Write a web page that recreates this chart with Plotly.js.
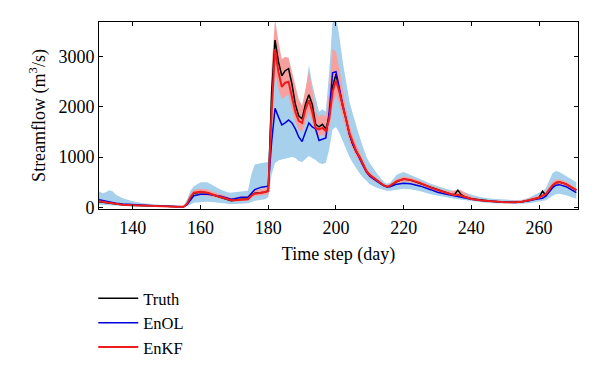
<!DOCTYPE html>
<html>
<head>
<meta charset="utf-8">
<script src="https://cdn.plot.ly/plotly-3.0.1.min.js"></script>
<style>html,body{margin:0;padding:0;background:#fff;}#chart{width:600px;height:372px;}</style>
</head>
<body>
<div id="chart"></div>
<script>
const days = [130,131,132,133,134,135,137,140,143,146,150,153,155,156,157,158,160,162,164,166,168,169,170,172,174,175,176,178,179,180,181,182,183,184,185,186,187,188,189,190,191,192,193,194,195,196,197,198,199,200,201,202,203,204,205,206,207,208,209,210,212,214,215,216,218,220,222,225,228,230,232,234,235,236,237,238,240,243,246,250,253,255,257,259,260,261,262,263,264,265,266,268,270,271];

const truth = [110,100,90,80,70,62,50,40,30,25,18,12,10,60,180,280,300,290,240,200,160,130,140,160,160,240,280,295,300,330,2300,3330,2900,2620,2720,2760,2450,2050,1820,1760,2050,2240,2050,1650,1600,1650,1560,1800,2400,2650,2300,2000,1750,1450,1250,1100,1000,850,720,640,540,440,410,420,510,560,540,470,390,340,300,260,250,340,250,210,170,140,120,100,100,110,140,180,190,320,240,330,430,490,500,460,380,340];

const enkf = [120,110,95,85,75,65,52,42,32,26,18,12,10,70,200,290,310,290,245,205,165,140,140,150,160,230,270,290,300,320,1900,3150,2700,2400,2480,2500,2200,1900,1720,1680,1950,2130,1900,1580,1550,1580,1520,1750,2300,2520,2300,2050,1750,1470,1280,1120,1000,850,720,640,540,440,410,430,520,560,545,480,390,340,300,260,245,250,230,200,165,135,115,100,100,110,140,175,190,230,260,350,440,490,500,460,380,340];

const enol = [150,135,120,105,92,80,65,50,38,30,22,15,12,50,150,230,260,260,240,220,180,160,170,200,200,280,350,400,410,420,1300,1970,1800,1640,1680,1740,1680,1560,1400,1310,1500,1680,1600,1560,1330,1360,1380,1900,2680,2700,2350,2050,1750,1450,1250,1100,980,830,700,620,520,430,410,410,460,480,470,420,350,300,270,240,230,220,210,190,160,135,115,100,95,105,130,160,170,180,220,300,390,440,450,410,330,290];

const olEnsTop = [320,280,300,340,320,250,180,120,80,60,40,30,25,150,330,420,500,500,430,350,300,290,300,320,330,650,850,880,890,900,2400,3100,2900,2600,2700,2750,2500,2200,2000,1850,2300,2830,2450,2200,1900,1950,1900,2700,3700,3800,3400,2900,2450,2100,1850,1600,1400,1200,1000,880,680,520,470,490,650,700,650,560,470,420,380,340,320,330,320,300,250,200,170,150,140,150,190,260,290,320,380,550,680,720,700,620,540,500];

const olEnsBot = [50,45,40,35,30,25,20,15,10,8,5,3,2,20,60,90,100,110,100,90,70,60,60,70,80,100,130,150,160,200,650,880,930,950,970,990,1000,980,920,900,960,1020,980,940,880,860,880,1150,1550,1600,1480,1320,1150,1000,880,770,670,590,520,460,390,340,330,330,350,370,360,320,260,230,200,180,170,160,150,140,120,100,80,70,65,70,80,100,110,120,140,180,230,260,270,240,190,170];

const kfEnsTop = [140,125,110,95,85,75,60,48,36,30,22,15,12,100,260,350,370,360,300,260,210,190,190,220,220,300,340,360,380,420,2800,3750,3300,2950,3000,2980,2700,2400,2150,2020,2400,2700,2350,1900,1800,1850,1800,2300,3150,3100,2750,2350,1950,1650,1420,1250,1100,930,790,700,580,470,440,460,570,610,590,520,430,380,340,320,340,350,340,300,210,160,135,120,125,140,170,210,230,260,320,420,510,560,560,510,420,380];

const kfEnsBot = [100,90,80,70,62,55,44,35,26,20,14,9,7,40,140,220,240,230,200,170,130,110,110,120,130,180,220,240,250,250,1500,2700,2350,2150,2200,2250,1950,1700,1550,1500,1700,1900,1700,1450,1420,1450,1380,1550,2000,2250,2050,1800,1550,1300,1150,1000,900,770,650,580,500,410,385,395,470,510,500,440,360,310,270,235,220,215,200,180,145,120,100,88,88,95,120,155,170,195,220,300,380,430,440,410,340,300];

const xTicks = [140,160,180,200,220,240,260];
const yTicks = [0,1000,2000,3000];

const FONT = "Liberation Serif, Times New Roman, serif";
const olFill = "rgba(166,208,236,1)";
const kfFill = "rgba(246,160,160,1)";

const traces = [
  {x: days, y: olEnsBot, mode: "lines", line: {width: 0, color: olFill}, showlegend: false, hoverinfo: "skip"},
  {x: days, y: olEnsTop, mode: "lines", line: {width: 0, color: olFill}, fill: "tonexty", fillcolor: olFill, showlegend: false, hoverinfo: "skip"},
  {x: days, y: kfEnsBot, mode: "lines", line: {width: 0, color: kfFill}, showlegend: false, hoverinfo: "skip"},
  {x: days, y: kfEnsTop, mode: "lines", line: {width: 0, color: kfFill}, fill: "tonexty", fillcolor: kfFill, showlegend: false, hoverinfo: "skip"},
  {x: days, y: truth, mode: "lines", name: "Truth", line: {color: "#000000", width: 1.5}},
  {x: days, y: enol, mode: "lines", name: "EnOL", line: {color: "#0000dd", width: 1.5}},
  {x: days, y: enkf, mode: "lines", name: "EnKF", line: {color: "#ee1c1c", width: 2}}
];

const layout = {
  width: 600, height: 372,
  margin: {l: 99, r: 22, t: 22, b: 163, autoexpand: false},
  paper_bgcolor: "#ffffff", plot_bgcolor: "#ffffff",
  font: {family: FONT, size: 18, color: "#000"},
  showlegend: true,
  legend: {x: -0.012, y: -0.385, xanchor: "left", yanchor: "top",
           traceorder: "normal", itemwidth: 40,
           font: {family: FONT, size: 16.5}, bgcolor: "rgba(0,0,0,0)", tracegroupgap: 0},
  xaxis: {
    range: [130, 271.5], tickvals: xTicks, ticktext: xTicks.map(String), automargin: false,
    ticks: "inside", ticklen: 4, tickcolor: "#000", showline: true, linecolor: "#000", linewidth: 1,
    mirror: "ticks", showgrid: false, zeroline: false, ticklabelstandoff: 2,
    tickfont: {family: FONT, size: 18},
    title: {text: "Time step (day)", font: {family: FONT, size: 18}, standoff: 10}
  },
  yaxis: {
    range: [-35, 3690], tickvals: yTicks, ticktext: yTicks.map(String), automargin: false,
    ticks: "inside", ticklen: 4, tickcolor: "#000", showline: true, linecolor: "#000", linewidth: 1,
    mirror: "ticks", showgrid: false, zeroline: false,
    tickfont: {family: FONT, size: 18},
    title: {text: "Streamflow (m<sup>3</sup>/s)", font: {family: FONT, size: 18}, standoff: 8}
  }
};

Plotly.newPlot("chart", traces, layout, {displayModeBar: false, staticPlot: true});
</script>
</body>
</html>
